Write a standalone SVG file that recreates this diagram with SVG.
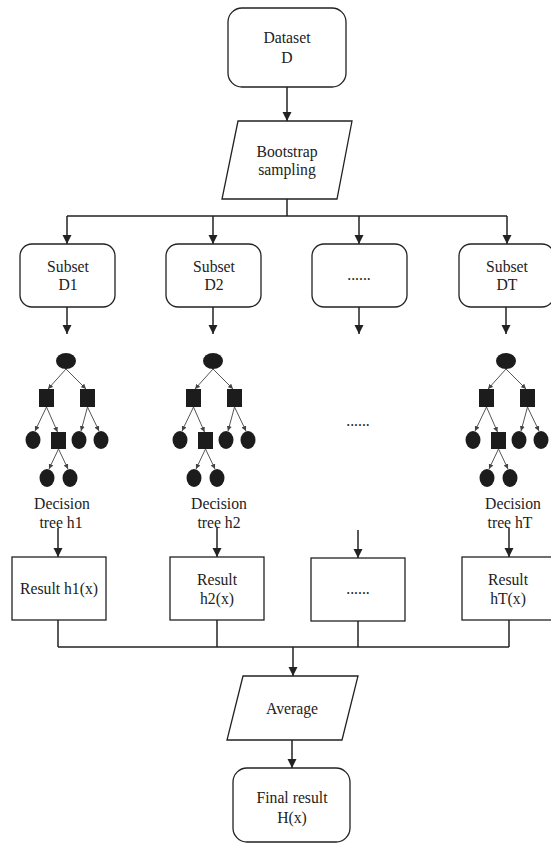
<svg xmlns="http://www.w3.org/2000/svg" xmlns:xlink="http://www.w3.org/1999/xlink" width="551" height="844" viewBox="0 0 551 844" font-family="'Liberation Serif', 'DejaVu Serif', serif">
<style>
.box{fill:#fff;stroke:#222;stroke-width:1.3}
text.t{font-family:'Liberation Serif','DejaVu Serif',serif;font-size:15.7px;fill:#222;text-anchor:middle}
.c{fill:none;stroke:#222;stroke-width:1.5}
.a{marker-end:url(#arr)}
.tn{fill:#1c1c1c}
.te{stroke:#555;stroke-width:1;fill:none;marker-end:url(#sarr)}
</style>
<defs>
<marker id="arr" viewBox="0 0 10 10" refX="10" refY="5" markerWidth="9" markerHeight="12" markerUnits="userSpaceOnUse" orient="auto"><path d="M0,0 L10,5 L0,10 z" fill="#222"/></marker>
<marker id="sarr" viewBox="0 0 10 10" refX="10" refY="5" markerWidth="5" markerHeight="5" markerUnits="userSpaceOnUse" orient="auto"><path d="M0,0 L10,5 L0,10 z" fill="#444"/></marker>
<g id="tree">
<line class="te" x1="0" y1="8" x2="-18" y2="28"/>
<line class="te" x1="0" y1="8" x2="20" y2="28"/>
<line class="te" x1="-19.5" y1="46" x2="-31" y2="70"/>
<line class="te" x1="-19.5" y1="46" x2="-8.5" y2="71"/>
<line class="te" x1="21.5" y1="46" x2="15" y2="70"/>
<line class="te" x1="21.5" y1="46" x2="33" y2="70"/>
<line class="te" x1="-7.5" y1="88" x2="-17" y2="108"/>
<line class="te" x1="-7.5" y1="88" x2="2" y2="108"/>
<ellipse class="tn" cx="0" cy="0" rx="10" ry="8"/>
<rect class="tn" x="-27" y="28" width="15" height="18"/>
<rect class="tn" x="14" y="28" width="15" height="18"/>
<ellipse class="tn" cx="-33" cy="79" rx="7.5" ry="9"/>
<rect class="tn" x="-15" y="71" width="15" height="17"/>
<ellipse class="tn" cx="13" cy="79" rx="7.5" ry="9"/>
<ellipse class="tn" cx="35" cy="79" rx="7.5" ry="9"/>
<ellipse class="tn" cx="-19" cy="117" rx="7.5" ry="9"/>
<ellipse class="tn" cx="4" cy="117" rx="7.5" ry="9"/>
</g>
</defs>

<g id="connectors">
<line class="c a" x1="287" y1="87" x2="287" y2="121"/>
<polyline class="c" points="287,199 287,216"/>
<line class="c" x1="67" y1="216" x2="507" y2="216"/>
<line class="c a" x1="67" y1="216" x2="67" y2="244"/>
<line class="c a" x1="213" y1="216" x2="213" y2="244"/>
<line class="c a" x1="359" y1="216" x2="359" y2="244"/>
<line class="c a" x1="507" y1="216" x2="507" y2="244"/>
<line class="c a" x1="67" y1="307" x2="67" y2="334"/>
<line class="c a" x1="213" y1="307" x2="213" y2="334"/>
<line class="c a" x1="359" y1="307" x2="359" y2="334"/>
<line class="c a" x1="506" y1="307" x2="506" y2="334"/>
<line class="c a" x1="58" y1="528" x2="58" y2="557"/>
<line class="c a" x1="217" y1="528" x2="217" y2="557"/>
<line class="c a" x1="358" y1="530" x2="358" y2="558"/>
<line class="c a" x1="509" y1="528" x2="509" y2="557"/>
<line class="c" x1="58" y1="620" x2="58" y2="647"/>
<line class="c" x1="217" y1="620" x2="217" y2="647"/>
<line class="c" x1="358" y1="621" x2="358" y2="647"/>
<line class="c" x1="509" y1="620" x2="509" y2="647"/>
<line class="c" x1="58" y1="647" x2="509" y2="647"/>
<line class="c a" x1="293" y1="647" x2="293" y2="676"/>
<line class="c a" x1="292" y1="740" x2="292" y2="768"/>
</g>

<g id="dataset">
<rect class="box" x="228" y="8" width="118" height="79" rx="14"/>
<text class="t" x="287" y="43">Dataset</text>
<text class="t" x="287" y="63">D</text>
</g>

<g id="bootstrap">
<polygon class="box" points="238,121 352,121 337,199 222,199"/>
<text class="t" x="287" y="157">Bootstrap</text>
<text class="t" x="287" y="175">sampling</text>
</g>

<g id="subset-d1">
<rect class="box" x="20" y="244" width="95" height="63" rx="12"/>
<text class="t" x="68" y="272">Subset</text>
<text class="t" x="68" y="290">D1</text>
</g>
<g id="subset-d2">
<rect class="box" x="166" y="244" width="95" height="63" rx="12"/>
<text class="t" x="214" y="272">Subset</text>
<text class="t" x="214" y="290">D2</text>
</g>
<g id="subset-dots">
<rect class="box" x="312" y="244" width="95" height="63" rx="12"/>
<text class="t" x="359" y="280">......</text>
</g>
<g id="subset-dt">
<rect class="box" x="459" y="244" width="95" height="63" rx="12"/>
<text class="t" x="507" y="272">Subset</text>
<text class="t" x="507" y="290">DT</text>
</g>

<g id="tree-h1">
<use xlink:href="#tree" href="#tree" x="66" y="361"/>
<text class="t" x="62" y="509">Decision</text>
<text class="t" x="61" y="528">tree h1</text>
</g>
<g id="tree-h2">
<use xlink:href="#tree" href="#tree" x="213" y="361"/>
<text class="t" x="219" y="509">Decision</text>
<text class="t" x="219" y="528">tree h2</text>
</g>
<g id="tree-dots">
<text class="t" x="358" y="426">......</text>
</g>
<g id="tree-hT">
<use xlink:href="#tree" href="#tree" x="506" y="361"/>
<text class="t" x="513" y="509">Decision</text>
<text class="t" x="510" y="528">tree hT</text>
</g>

<g id="result-h1">
<rect class="box" x="12" y="557" width="94" height="63"/>
<text class="t" x="59" y="594">Result h1(x)</text>
</g>
<g id="result-h2">
<rect class="box" x="170" y="557" width="94" height="63"/>
<text class="t" x="217" y="585">Result</text>
<text class="t" x="217" y="604">h2(x)</text>
</g>
<g id="result-dots">
<rect class="box" x="311" y="558" width="94" height="63"/>
<text class="t" x="358" y="594">......</text>
</g>
<g id="result-hT">
<rect class="box" x="462" y="557" width="94" height="63"/>
<text class="t" x="508" y="585">Result</text>
<text class="t" x="508" y="604">hT(x)</text>
</g>

<g id="average">
<polygon class="box" points="243,676 358,676 342,740 227,740"/>
<text class="t" x="292" y="714">Average</text>
</g>

<g id="final">
<rect class="box" x="233" y="768" width="117" height="74" rx="14"/>
<text class="t" x="292" y="803">Final result</text>
<text class="t" x="292" y="823">H(x)</text>
</g>
</svg>
